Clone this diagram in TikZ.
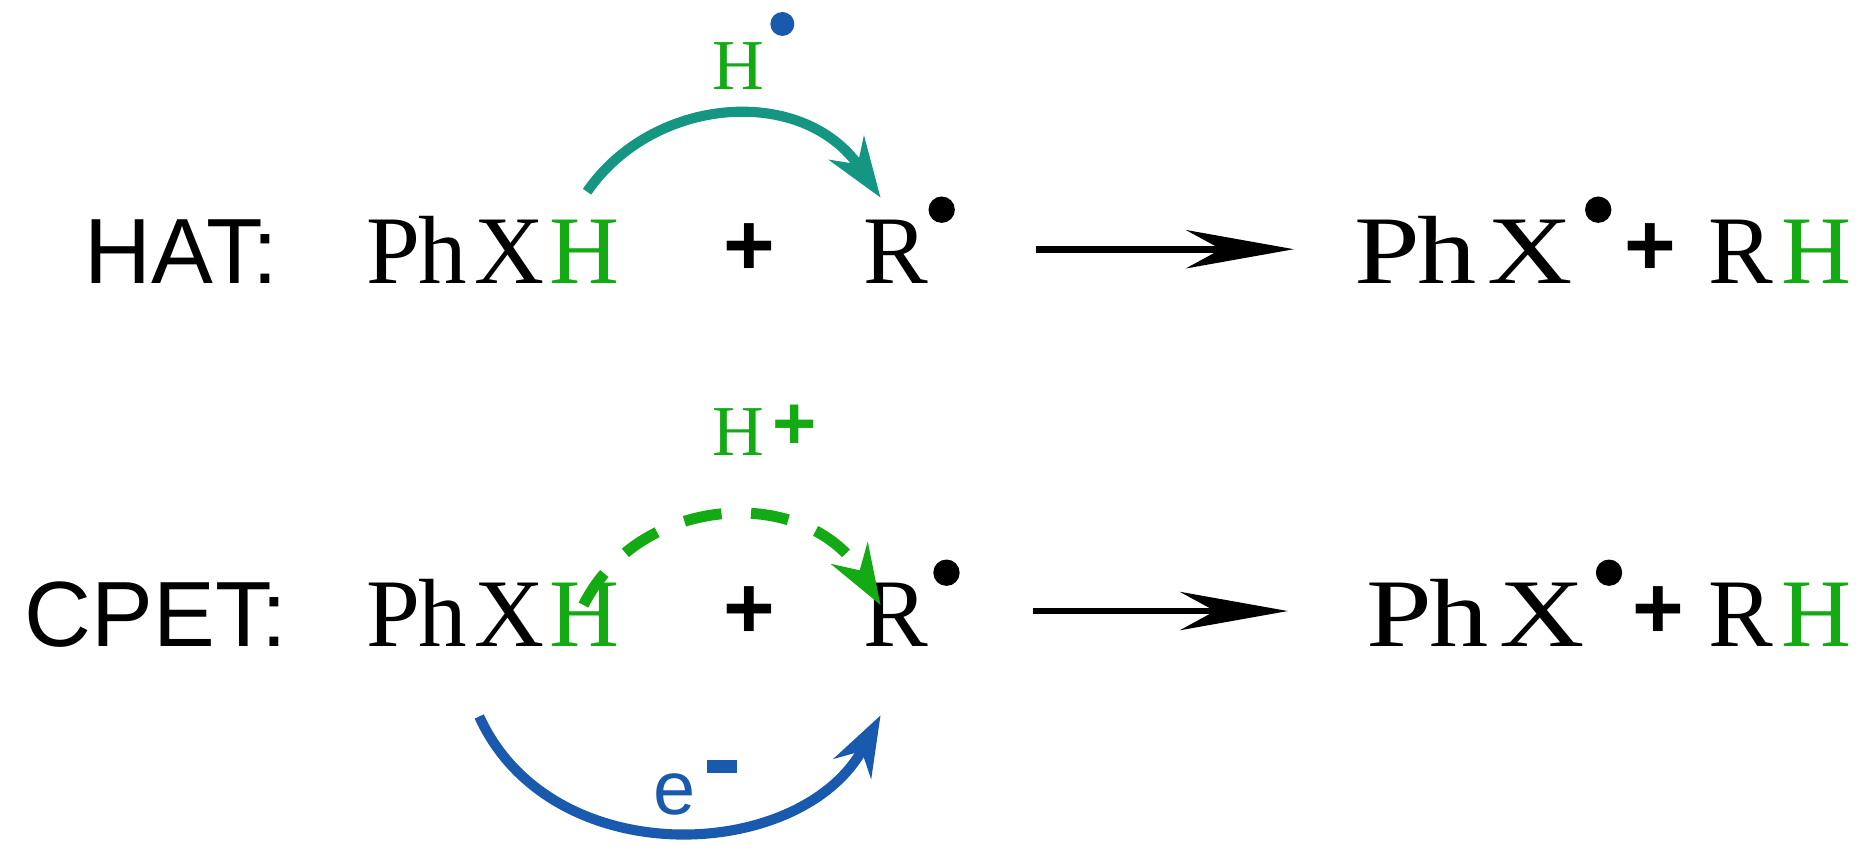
\documentclass[tikz,border=0pt]{standalone}
\usepackage{fontspec}
\setmainfont{Liberation Serif}
\setsansfont{Liberation Sans}
\usetikzlibrary{arrows.meta}
\definecolor{hg}{RGB}{20,170,20}
\definecolor{teal1}{RGB}{20,150,130}
\definecolor{blue1}{RGB}{25,90,175}
\tikzset{
 chem/.style={font=\fontsize{23}{26}\selectfont, inner sep=0pt, anchor=base west},
 lab/.style={font=\sffamily\fontsize{22}{26}\selectfont, inner sep=0pt, anchor=base west},
 dotr/.style={circle, fill=black, inner sep=0pt, minimum size=2.2mm},
 rxn/.style={line width=1.6pt, -{Stealth[length=9mm,width=3.2mm]}},
 small/.style={font=\fontsize{17}{20}\selectfont, inner sep=0pt, anchor=base west, text=hg},
 plusb/.style={font=\sffamily\bfseries\fontsize{21}{24}\selectfont, inner sep=0pt, anchor=base west},
}
\begin{document}
\begin{tikzpicture}[x=0.01cm,y=-0.01cm]
\useasboundingbox (0,0) rectangle (1560,714);
% row 1
\node[lab] (hat) at (70,237) {HAT:};
\node[chem] (a1) at (305,237) {P\kern-.5pt h\kern2pt X\kern1pt\textcolor{hg}{H}};
\node[plusb] (p1) at (603,230) {+};
\node[chem] (r1) at (720,237) {R};
\node[dotr] (d1) at (786,175) {};
\coordinate (e1) at (865,208);
\coordinate (s1) at (1080,208);
\draw[rxn] (e1) -- (s1);
\node[chem] (q1) at (1130,237) {\scalebox{1.22}[1]{P\kern-.5pt h\kern2pt X}};
\node[dotr] (d2) at (1334,175) {};
\node[plusb] (p2) at (1355,230) {+};
\node[chem] (rh1) at (1425,237) {R\kern2pt\textcolor{hg}{H}};
\node[small] (h1) at (594,75) {H};
\node[dotr,fill=blue1,minimum size=2mm] (hd) at (653,20) {};
\coordinate (c1s) at (490,160);
\coordinate (c1e) at (735,165);
\draw[teal1, line width=2.4pt, -{Stealth[length=5mm,width=3.5mm]}]
  (c1s) .. controls (545,80) and (670,70) .. (c1e);
% row 2
\node[lab] (cpet) at (20,540) {CPET:};
\node[chem] (a2) at (305,540) {P\kern-.5pt h\kern2pt X\kern1pt\textcolor{hg}{H}};
\node[plusb] (p3) at (603,533) {+};
\node[chem] (r2) at (720,540) {R};
\node[dotr] (d3) at (790,478) {};
\coordinate (e2) at (862,510);
\coordinate (s2) at (1075,510);
\draw[rxn] (e2) -- (s2);
\node[chem] (q2) at (1140,540) {\scalebox{1.22}[1]{P\kern-.5pt h\kern2pt X}};
\node[dotr] (d4) at (1343,478) {};
\node[plusb] (p4) at (1362,533) {+};
\node[chem] (rh2) at (1425,540) {R\kern2pt\textcolor{hg}{H}};
\node[small] (h2) at (594,380) {H};
\node[text=hg,font=\sffamily\bfseries\fontsize{18}{20}\selectfont,inner sep=0pt] (hp) at (663,357) {+};
\coordinate (c2s) at (487,505);
\coordinate (c2e) at (735,505);
\draw[hg, line width=2.6pt, dash pattern=on 9pt off 7pt, -{Stealth[length=5mm,width=3.5mm]}]
  (c2s) .. controls (535,410) and (675,405) .. (c2e);
\coordinate (c3s) at (400,598);
\coordinate (c3e) at (735,597);
\draw[blue1, line width=2.4pt, -{Stealth[length=5mm,width=3.5mm]}]
  (c3s) .. controls (460,730) and (670,720) .. (c3e);
\node[font=\sffamily\fontsize{18}{20}\selectfont,text=blue1,inner sep=0pt,anchor=base west] (el) at (545,680) {e};
\draw[blue1, line width=3pt] (590,640) -- (615,640);
\end{tikzpicture}
\end{document}
